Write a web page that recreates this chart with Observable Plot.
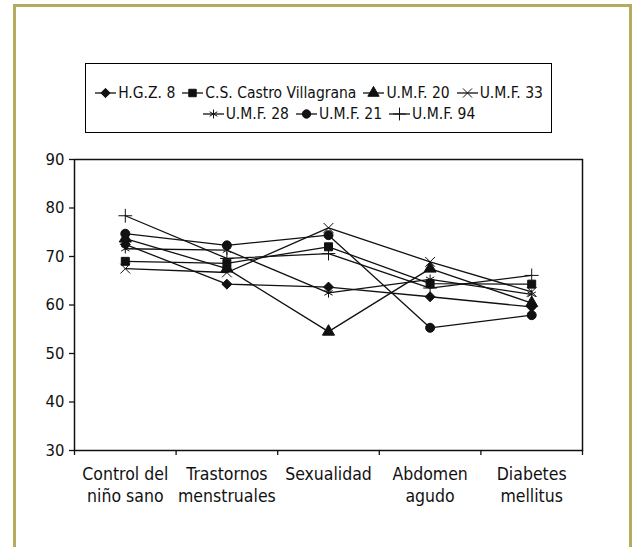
<!DOCTYPE html>
<html>
<head>
<meta charset="utf-8">
<script src="https://cdn.jsdelivr.net/npm/d3@7"></script>
<script src="https://cdn.jsdelivr.net/npm/@observablehq/plot@0.6"></script>
<style>
  html, body { margin: 0; padding: 0; background: #fff; }
  #page { position: relative; width: 633px; height: 547px; overflow: hidden;
          font-family: "DejaVu Sans Condensed", "Liberation Sans Narrow", sans-serif; font-stretch: condensed; }
  #outer { position: absolute; left: 13px; top: 4px; width: 619px; height: 620px;
           border: 3px solid #b5ab5f; box-sizing: border-box; }
  #legend { position: absolute; left: 85px; top: 63px; width: 467px; height: 70px;
            border: 1.5px solid #000; box-sizing: border-box; padding-top: 18px;
            font-size: 15.5px; color: #111; }
  .row { display: flex; justify-content: center; align-items: center; height: 21px; gap: 6px; }
  .item { display: flex; align-items: center; white-space: nowrap; }
  .item svg { margin-right: 1px; }
  #chart { position: absolute; left: 0; top: 140px; }
</style>
</head>
<body>
<div id="page">
  <div id="outer"></div>
  <div id="legend"></div>
  <div id="chart"></div>
</div>
<script>
const categories = ["Control del niño sano", "Trastornos menstruales", "Sexualidad", "Abdomen agudo", "Diabetes mellitus"];
const categoryLabels = ["Control del\nniño sano", "Trastornos\nmenstruales", "Sexualidad", "Abdomen\nagudo", "Diabetes\nmellitus"];
const seriesNames = ["H.G.Z. 8", "C.S. Castro Villagrana", "U.M.F. 20", "U.M.F. 33", "U.M.F. 28", "U.M.F. 21", "U.M.F. 94"];
const seriesSymbols = ["diamond2", "square", "triangle", "times", "asterisk", "circle", "plus"];
const legendRows = [[0, 1, 2, 3], [4, 5, 6]];

const hgz8   = [72.5, 64.3, 63.7, 61.7, 59.6];
const csCastro = [69.0, 68.6, 72.0, 64.4, 64.3];
const umf20  = [73.7, 67.5, 54.5, 67.5, 60.4];
const umf33  = [67.5, 66.7, 75.9, 68.9, 62.7];
const umf28  = [71.6, 71.3, 62.5, 65.3, 62.2];
const umf21  = [74.7, 72.3, 74.4, 55.3, 57.9];
const umf94  = [78.4, 69.6, 70.6, 63.5, 66.1];
const seriesValues = [hgz8, csCastro, umf20, umf33, umf28, umf21, umf94];

const yTicks = [30, 40, 50, 60, 70, 80, 90];

const data = [];
seriesNames.forEach((name, s) => {
  categories.forEach((cat, i) => {
    data.push({series: name, category: cat, xi: categories.indexOf(cat) + 0.5, value: seriesValues[s][i]});
  });
});

const FONT = '"DejaVu Sans Condensed", "Liberation Sans Narrow", sans-serif';

const chart = Plot.plot({
  width: 633,
  height: 380,
  marginLeft: 74,
  marginRight: 51,
  marginTop: 19,
  marginBottom: 70,
  style: {fontFamily: FONT, fontSize: "16px", color: "#111", background: "transparent", fontStretch: "condensed"},
  x: {type: "linear", domain: [0, categories.length], axis: null, label: null},
  y: {domain: [30, 90], axis: null, label: null},
  symbol: {domain: seriesNames, range: seriesSymbols},
  marks: [
    Plot.frame({stroke: "#111", strokeWidth: 1.5}),
    Plot.axisY({ticks: yTicks, tickSize: 5, tickPadding: 5, fontSize: 16.5, stroke: "#111", strokeWidth: 1.3, label: null}),
    Plot.axisX({ticks: d3.range(categories.length + 1), tickSize: 5, tickFormat: () => "", stroke: "#111", strokeWidth: 1.3, label: null}),
    Plot.axisX({ticks: d3.range(categories.length).map(i => i + 0.5), tickSize: 0, tickPadding: 13,
                tickFormat: v => categoryLabels[Math.floor(v)], fontSize: 17.5, lineHeight: 1.3, label: null}),
    Plot.line(data, {x: "xi", y: "value", z: "series", stroke: "#111", strokeWidth: 1.3}),
    Plot.dot(data, {x: "xi", y: "value", symbol: "series", fill: "#111", stroke: "#111", strokeWidth: 1, r: 4.5})
  ]
});
document.getElementById("chart").appendChild(chart);

// Legend
const symbolMap = {diamond2: d3.symbolDiamond2, square: d3.symbolSquare, triangle: d3.symbolTriangle,
                   times: d3.symbolTimes, asterisk: d3.symbolAsterisk, circle: d3.symbolCircle, plus: d3.symbolPlus};
const legend = document.getElementById("legend");
legendRows.forEach((row, ri) => {
  const div = document.createElement("div");
  div.className = "row";
  if (ri === 1) div.style.paddingLeft = "40px";
  row.forEach(s => {
    const item = document.createElement("span");
    item.className = "item";
    const svg = d3.create("svg").attr("width", 23).attr("height", 14);
    svg.append("line").attr("x1", 1).attr("x2", 22).attr("y1", 7).attr("y2", 7)
      .attr("stroke", "#111").attr("stroke-width", 1.3);
    const symName = seriesSymbols[s];
    const lineSym = ["times", "asterisk", "plus"].includes(symName);
    svg.append("path").attr("transform", "translate(11.5,7)")
      .attr("d", d3.symbol(symbolMap[symName], Math.PI * 4.2 * 4.2)())
      .attr("fill", lineSym ? "none" : "#111").attr("stroke", "#111").attr("stroke-width", 1);
    item.appendChild(svg.node());
    const t = document.createElement("span");
    t.textContent = seriesNames[s];
    item.appendChild(t);
    div.appendChild(item);
  });
  legend.appendChild(div);
});
</script>
</body>
</html>
